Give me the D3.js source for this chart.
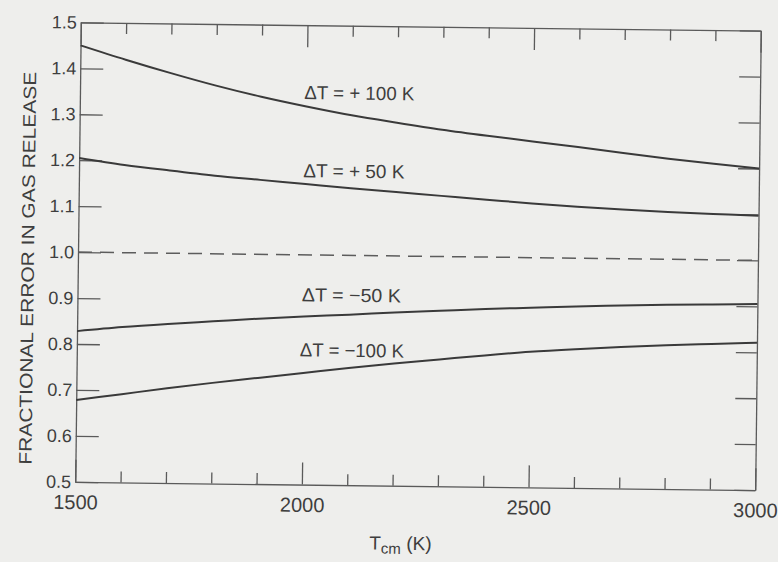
<!DOCTYPE html>
<html>
<head>
<meta charset="utf-8">
<script src="https://cdn.jsdelivr.net/npm/d3@7"></script>
<style>
  html, body { margin: 0; padding: 0; background: #eeeeec; }
  svg { display: block; }
  text { font-family: "Liberation Sans", "DejaVu Sans", sans-serif; fill: #3e3e3e; }
</style>
</head>
<body>
<svg id="chart" width="778" height="562"></svg>
<script>
// ---- data ----
const temps = [1500, 1600, 1700, 1800, 1900, 2000, 2100, 2200, 2300, 2400, 2500, 2600, 2700, 2800, 2900, 3000];
const plus100  = [1.450, 1.420, 1.392, 1.366, 1.343, 1.323, 1.305, 1.290, 1.276, 1.264, 1.253, 1.242, 1.230, 1.219, 1.209, 1.200];
const plus50   = [1.205, 1.191, 1.180, 1.170, 1.162, 1.154, 1.146, 1.139, 1.132, 1.125, 1.118, 1.112, 1.107, 1.103, 1.100, 1.097];
const minus50  = [0.828, 0.838, 0.846, 0.853, 0.860, 0.866, 0.871, 0.877, 0.882, 0.887, 0.891, 0.895, 0.898, 0.901, 0.903, 0.905];
const minus100 = [0.678, 0.692, 0.706, 0.719, 0.731, 0.743, 0.755, 0.766, 0.776, 0.786, 0.795, 0.802, 0.808, 0.813, 0.817, 0.821];
const reference = [1.0, 1.0];
const referenceT = [1500, 3000];

const xMajorTicks = [1500, 2000, 2500, 3000];
const xMinorTicks = [1600, 1700, 1800, 1900, 2100, 2200, 2300, 2400, 2600, 2700, 2800, 2900];
const yTicks = [0.5, 0.6, 0.7, 0.8, 0.9, 1.0, 1.1, 1.2, 1.3, 1.4, 1.5];
const yTickLabels = ["0.5", "0.6", "0.7", "0.8", "0.9", "1.0", "1.1", "1.2", "1.3", "1.4", "1.5"];

const curveLabels = ["ΔT = + 100 K", "ΔT = + 50 K", "ΔT = −50 K", "ΔT = −100 K"];
const labelAnchorT = [1995, 1995, 1995, 1992];
const labelAnchorV = [1.339, 1.169, 0.899, 0.779];

const yTitle = "FRACTIONAL ERROR IN GAS RELEASE";

// ---- layout ----
const svg = d3.select("#chart");
const pL = 78, pR = 758, pT = 26.5, pB = 486;
const x = d3.scaleLinear().domain([1500, 3000]).range([pL, pR]);
const y = d3.scaleLinear().domain([0.5, 1.5]).range([pB, pT]);

// slight scan tilt of the original page
const g = svg.append("g").attr("transform", "rotate(0.7,418,256)");

const axisColor = "#5a5a5a";

function styleAxis(sel) {
  sel.selectAll("path.domain").attr("stroke", axisColor).attr("stroke-width", 1.3);
  sel.selectAll(".tick line").attr("stroke", axisColor).attr("stroke-width", 1.3);
}

// bottom
const bMajor = g.append("g").attr("transform", `translate(0,${pB})`)
  .call(d3.axisBottom(x).tickValues(xMajorTicks).tickSizeInner(-22).tickSizeOuter(0).tickPadding(13).tickFormat(d3.format("d")));
styleAxis(bMajor);
bMajor.selectAll("text").attr("font-size", 20).attr("fill", "#444").attr("font-family", "Liberation Sans, DejaVu Sans, sans-serif");
const bMinor = g.append("g").attr("transform", `translate(0,${pB})`)
  .call(d3.axisBottom(x).tickValues(xMinorTicks).tickSize(-11).tickFormat(""));
bMinor.select("path.domain").remove();
styleAxis(bMinor);

// top
const tMajor = g.append("g").attr("transform", `translate(0,${pT})`)
  .call(d3.axisTop(x).tickValues(xMajorTicks).tickSizeInner(-22).tickSizeOuter(0).tickFormat(""));
styleAxis(tMajor);
const tMinor = g.append("g").attr("transform", `translate(0,${pT})`)
  .call(d3.axisTop(x).tickValues(xMinorTicks).tickSize(-11).tickFormat(""));
tMinor.select("path.domain").remove();
styleAxis(tMinor);

// left
const lAxis = g.append("g").attr("transform", `translate(${pL},0)`)
  .call(d3.axisLeft(y).tickValues(yTicks).tickSizeInner(-23).tickSizeOuter(0).tickPadding(4)
    .tickFormat((d, i) => yTickLabels[i]));
styleAxis(lAxis);
lAxis.selectAll("text").attr("font-size", 18).attr("fill", "#444").attr("font-family", "Liberation Sans, DejaVu Sans, sans-serif");

// right
const rAxis = g.append("g").attr("transform", `translate(${pR},0)`)
  .call(d3.axisRight(y).tickValues(yTicks).tickSizeInner(-21).tickSizeOuter(0).tickFormat(""));
styleAxis(rAxis);

// reference dashed line
const line = d3.line().x(d => x(d[0])).y(d => y(d[1])).curve(d3.curveMonotoneX);
g.append("path")
  .datum(referenceT.map((t, i) => [t, reference[i]]))
  .attr("d", line)
  .attr("fill", "none").attr("stroke", "#5c5c5c").attr("stroke-width", 1.5)
  .attr("stroke-dasharray", "14,8");

// curves
const series = [plus100, plus50, minus50, minus100];
series.forEach(vals => {
  g.append("path")
    .datum(temps.map((t, i) => [t, vals[i]]))
    .attr("d", line)
    .attr("fill", "none").attr("stroke", "#3a3a3a").attr("stroke-width", 2);
});

// curve labels
const labelWidths = [110, 101, 99, 104];
curveLabels.forEach((txt, i) => {
  g.append("text")
    .attr("x", x(labelAnchorT[i]))
    .attr("y", y(labelAnchorV[i]))
    .attr("font-size", 19)
    .attr("textLength", labelWidths[i])
    .attr("lengthAdjust", "spacingAndGlyphs")
    .text(txt);
});

// y title
g.append("text")
  .attr("transform", "translate(34,273) rotate(-90)")
  .attr("text-anchor", "middle")
  .attr("font-size", 18)
  .attr("textLength", 393)
  .attr("lengthAdjust", "spacingAndGlyphs")
  .text(yTitle);

// x title: T_cm (K)
const xt = g.append("text")
  .attr("x", 404)
  .attr("y", 550)
  .attr("text-anchor", "middle")
  .attr("font-size", 19);
xt.append("tspan").text("T");
xt.append("tspan").attr("font-size", 15).attr("dy", 4).text("cm");
xt.append("tspan").attr("dy", -4).text(" (K)");
</script>
</body>
</html>
